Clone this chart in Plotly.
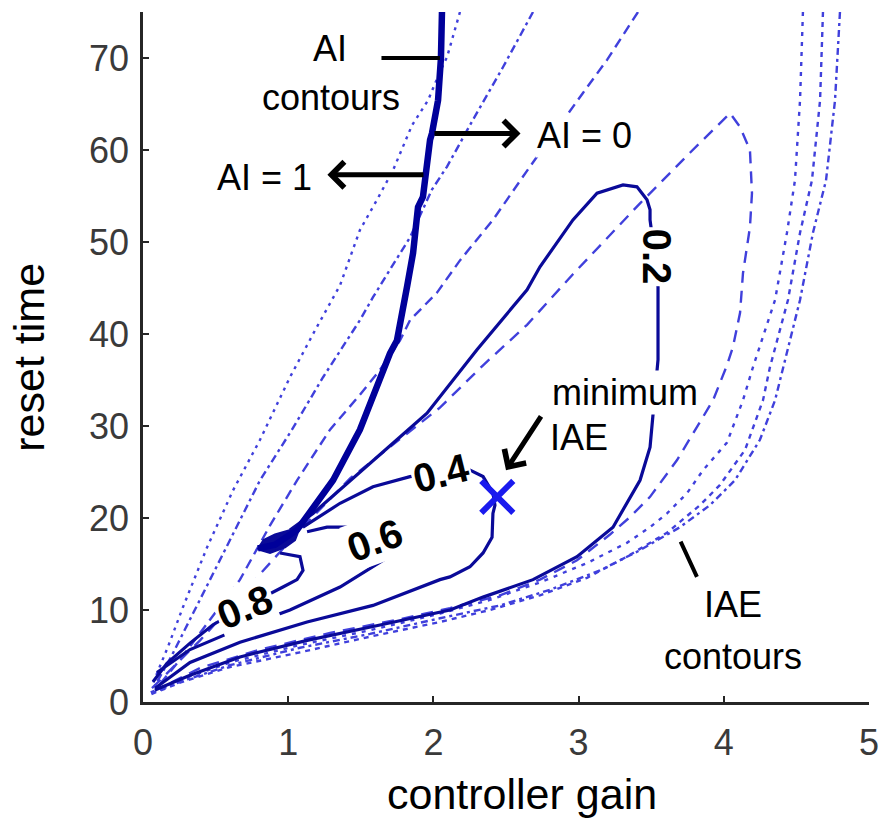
import plotly.graph_objects as go

# ---------------------------------------------------------------------------
# Tuning map: controller gain (Kc) vs reset time (Ti)
# ---------------------------------------------------------------------------

# Thick stepped boundary separating AI = 1 (left) from AI = 0 (right)
ai_limit_kc = [2.059, 2.052, 2.032, 2.011, 1.99, 1.977, 1.942, 1.928, 1.894, 1.873, 1.86,
               1.818, 1.784, 1.749, 1.701, 1.632, 1.543, 1.494, 1.309, 1.061, 0.91, 0.792]
ai_limit_ti = [75.0, 70.0, 65.4, 63.3, 61.8, 61.1, 57.1, 54.9, 53.8, 50.2, 48.8,
               45.1, 42.6, 39.3, 37.9, 35.0, 31.4, 29.6, 24.1, 18.7, 17.1, 16.7]

# Dense knot where the contours meet near Kc ~ 0.9
knot_kc = [0.79, 0.83, 0.909, 1.012, 1.081, 1.047, 0.978, 0.875, 0.79]
knot_ti = [16.6, 17.6, 18.2, 18.7, 19.0, 17.6, 16.8, 16.2, 16.6]

# Solid contours with their levels
iae_levels = [0.2, 0.4, 0.6, 0.8]

c02_kc = [1.012, 1.171, 1.77, 1.956, 2.3, 2.645, 2.734, 2.961, 3.127, 3.306, 3.402, 3.471,
          3.492, 3.492, 3.526, 3.547, 3.547, 3.512, 3.492, 3.423, 3.237, 2.989, 2.686,
          2.342, 2.114, 1.584, 1.13, 0.668, 0.324, 0.083]
c02_ti = [18.7, 20.5, 28.8, 31.4, 38.3, 44.8, 47.3, 52.4, 55.3, 56.2, 56.0, 54.6,
          53.5, 52.4, 48.4, 45.1, 37.2, 31.0, 27.7, 24.1, 19.0, 15.8, 13.3,
          11.4, 10.0, 8.2, 6.7, 4.9, 2.9, 1.3]

c04_kc = [1.102, 1.357, 1.584, 1.839, 2.045, 2.252, 2.342, 2.41, 2.424, 2.41, 2.404,
          2.342, 2.252, 2.114, 2.045, 1.584, 1.13, 0.668, 0.324, 0.083]
c04_ti = [19.0, 21.6, 23.4, 24.5, 24.9, 25.2, 24.5, 22.7, 21.4, 20.5, 17.9,
          16.2, 14.7, 13.6, 13.3, 10.5, 8.7, 6.5, 4.3, 1.5]

c06_kc = [1.13, 1.267, 1.426, 1.598, 1.653, 1.357, 1.012, 0.668, 0.324, 0.096]
c06_ti = [18.5, 19.0, 19.0, 17.6, 15.4, 12.5, 10.0, 8.0, 5.7, 3.2]

c08_kc = [0.944, 1.081, 1.102, 1.061, 0.964, 0.696, 0.482, 0.324, 0.165, 0.069]
c08_ti = [16.2, 15.8, 14.3, 13.3, 12.5, 10.3, 8.4, 6.4, 4.2, 2.2]

# Dashed AI contours fanning out from the origin
ai1_kc = [2.183, 2.094, 2.045, 1.963, 1.853, 1.722, 1.612, 1.494, 1.357, 1.185, 1.012,
          0.806, 0.62, 0.441, 0.275, 0.172, 0.062]
ai1_ti = [75.0, 70.1, 68.5, 65.4, 62.7, 57.8, 54.6, 51.3, 45.3, 40.4, 35.3,
          28.5, 23.0, 16.8, 10.3, 6.0, 1.8]

ai2_kc = [2.686, 2.479, 2.273, 2.094, 1.99, 1.839, 1.701, 1.584, 1.494, 1.24, 1.026,
          0.806, 0.634, 0.461, 0.324, 0.2, 0.083]
ai2_ti = [75.0, 69.0, 63.3, 58.2, 55.7, 50.5, 47.0, 44.0, 41.5, 35.3, 29.6,
          24.1, 18.7, 13.3, 8.9, 5.1, 1.8]

ai3_kc = [3.409, 3.196, 3.03, 2.665, 2.41, 2.183, 2.025, 1.839, 1.77, 1.632, 1.494,
          1.288, 1.061, 0.875, 0.668, 0.461, 0.255, 0.083]
ai3_ti = [75.0, 69.8, 66.2, 58.2, 52.4, 48.0, 44.5, 41.5, 39.3, 36.1, 33.4,
          29.6, 24.1, 19.2, 13.3, 8.9, 4.6, 1.3]

# Dashed IAE contours (outer levels)
iae1_kc = [0.062, 0.393, 0.737, 1.081, 1.426, 1.77, 2.045, 2.342, 2.645, 2.961, 3.423,
           3.767, 4.043, 4.112, 4.18, 4.194, 4.18, 4.132, 4.112, 4.063, 4.022, 3.926,
           3.788, 3.678, 3.492, 3.354, 3.216, 2.989, 2.734, 2.459, 2.114, 1.77, 1.288,
           0.806, 0.393, 0.117]
iae1_ti = [1.5, 6.7, 12.7, 18.7, 24.3, 28.6, 32.0, 36.6, 41.0, 46.5, 54.2,
           59.7, 64.0, 62.5, 60.0, 55.3, 51.6, 46.6, 42.3, 38.6, 36.6, 32.8,
           29.2, 26.3, 22.3, 20.1, 18.2, 15.4, 13.3, 11.6, 10.2, 9.0, 7.5,
           5.7, 3.7, 1.5]

iae2_kc = [4.545, 4.525, 4.49, 4.435, 4.353, 4.201, 4.132, 4.022, 3.857, 3.747, 3.609,
           3.492, 3.333, 3.058, 2.734, 2.39, 2.045, 1.563, 1.081, 0.599, 0.255, 0.048]
iae2_ti = [75.0, 65.4, 56.7, 51.0, 43.7, 36.4, 32.8, 28.2, 25.2, 22.7, 20.5,
           19.0, 17.3, 15.1, 13.0, 11.1, 9.6, 7.8, 6.2, 4.3, 2.4, 1.0]

iae3_kc = [4.683, 4.663, 4.607, 4.525, 4.442, 4.318, 4.27, 4.146, 3.974, 3.836, 3.609,
           3.333, 3.058, 2.734, 2.39, 2.045, 1.563, 1.081, 0.599, 0.255, 0.048]
iae3_ti = [75.0, 65.4, 56.7, 51.0, 43.7, 36.4, 32.8, 27.4, 23.6, 21.4, 18.4,
           15.8, 13.5, 11.6, 10.0, 8.7, 7.1, 5.4, 3.8, 2.1, 0.8]

iae4_kc = [4.8, 4.766, 4.704, 4.614, 4.525, 4.408, 4.353, 4.249, 4.077, 3.905, 3.698,
           3.423, 3.147, 2.803, 2.459, 2.045, 1.563, 1.081, 0.599, 0.255, 0.048]
iae4_ti = [75.0, 65.4, 56.7, 51.0, 43.7, 36.4, 32.8, 28.5, 24.1, 21.4, 19.0,
           16.5, 14.3, 12.2, 10.5, 9.1, 7.4, 5.9, 4.0, 2.2, 0.9]

# Minimum IAE tuning
min_kc = [2.44]
min_ti = [22.3]

x_ticks = [0, 1, 2, 3, 4, 5]
y_ticks = [0, 10, 20, 30, 40, 50, 60, 70]

NAVY = "#0a0a98"
DASH_BLUE = "#4040dc"
FONT = "Liberation Sans, Arial, Helvetica, sans-serif"

fig = go.Figure()


def add_curve(kc, ti, color, width, dash="solid"):
    fig.add_trace(go.Scatter(
        x=kc, y=ti, mode="lines",
        line=dict(color=color, width=width, dash=dash),
        hoverinfo="skip", showlegend=False,
    ))


# dashed contour families
add_curve(ai1_kc, ai1_ti, DASH_BLUE, 2.4, "3px,5px")
add_curve(ai2_kc, ai2_ti, DASH_BLUE, 2.4, "8px,4px,3px,4px")
add_curve(ai3_kc, ai3_ti, DASH_BLUE, 2.4, "10px,6px")
add_curve(iae1_kc, iae1_ti, DASH_BLUE, 2.4, "12px,8px")
add_curve(iae2_kc, iae2_ti, DASH_BLUE, 2.4, "4px,6px")
add_curve(iae3_kc, iae3_ti, DASH_BLUE, 2.4, "5px,5px")
add_curve(iae4_kc, iae4_ti, DASH_BLUE, 2.4, "7px,4px,3px,4px")

# solid labelled contours
for kc, ti in [(c02_kc, c02_ti), (c04_kc, c04_ti), (c06_kc, c06_ti), (c08_kc, c08_ti)]:
    add_curve(kc, ti, NAVY, 3.2)

# stepped AI boundary and knot
fig.add_trace(go.Scatter(
    x=knot_kc, y=knot_ti, mode="lines", fill="toself",
    fillcolor=NAVY, line=dict(color=NAVY, width=2),
    hoverinfo="skip", showlegend=False,
))
add_curve(ai_limit_kc, ai_limit_ti, "#00009a", 6.5)

# minimum IAE marker
fig.add_trace(go.Scatter(
    x=min_kc, y=min_ti, mode="markers",
    marker=dict(symbol="x-thin", size=32, line=dict(width=6, color="#1a1aee")),
    hoverinfo="skip", showlegend=False,
))

annotations = []


def label(text, x, y, size=36, bold=False, angle=0, xanchor="center", bg=True):
    annotations.append(dict(
        x=x, y=y, xref="x", yref="y", text=f"<b>{text}</b>" if bold else text,
        showarrow=False, textangle=angle, xanchor=xanchor, yanchor="middle",
        font=dict(family=FONT, size=size, color="black"),
        bgcolor="white" if bg else None, borderpad=1,
    ))


def arrow(x_tail, y_tail, x_head, y_head, head=4, width=5, size=1.0):
    annotations.append(dict(
        x=x_head, y=y_head, ax=x_tail, ay=y_tail,
        xref="x", yref="y", axref="x", ayref="y",
        text="", showarrow=True, arrowhead=head, arrowsize=size,
        arrowwidth=width, arrowcolor="black",
    ))


# contour level labels
label(f"{iae_levels[0]}", 3.54, 48.4, size=40, bold=True, angle=90)
label(f"{iae_levels[1]}", 2.05, 24.9, size=40, bold=True, angle=-14)
label(f"{iae_levels[2]}", 1.60, 17.6, size=40, bold=True, angle=-20)
label(f"{iae_levels[3]}", 0.70, 10.3, size=40, bold=True, angle=-22)

# AI contour callouts
label("AI", 1.29, 71.0, bg=False)
label("contours", 1.295, 65.7)
arrow(1.632, 70.0, 2.045, 70.0, head=0, width=4)
label("AI = 0", 3.04, 61.6)
arrow(1.997, 61.8, 2.60, 61.8)
label("AI = 1", 0.84, 57.0)
arrow(1.942, 57.3, 1.27, 57.3)

# minimum IAE callout
label("minimum", 2.80, 33.6, xanchor="left")
label("IAE", 2.79, 28.8, xanchor="left")
arrow(2.748, 31.2, 2.50, 25.2)

# IAE contour callout
arrow(3.698, 17.6, 3.815, 13.6, head=0, width=4)
label("IAE", 4.063, 10.6, bg=False)
label("contours", 4.063, 5.0, bg=False)

# axis titles
annotations.append(dict(
    x=-0.157, y=0.499, xref="paper", yref="paper", text="reset time",
    showarrow=False, textangle=-90, xanchor="center", yanchor="middle",
    font=dict(family=FONT, size=43, color="black"),
))
annotations.append(dict(
    x=0.522, y=-0.133, xref="paper", yref="paper", text="controller gain",
    showarrow=False, xanchor="center", yanchor="middle",
    font=dict(family=FONT, size=43, color="black"),
))

axis_common = dict(
    showgrid=False, zeroline=False, showline=True, linecolor="#262626", linewidth=2.5,
    ticks="inside", ticklen=6, tickwidth=2, tickcolor="#262626",
    tickfont=dict(family=FONT, size=36, color="#3a3a3a"),
    mirror=False, fixedrange=True,
)

fig.update_layout(
    width=881, height=825,
    margin=dict(l=143, r=12, t=12, b=123, autoexpand=False),
    paper_bgcolor="white", plot_bgcolor="white",
    xaxis=dict(range=[0, 5], tickvals=x_ticks, ticktext=[str(v) for v in x_ticks],
               ticklabelstandoff=7, **axis_common),
    yaxis=dict(range=[0, 75], tickvals=y_ticks, ticktext=[str(v) for v in y_ticks],
               ticklabelstandoff=4, **axis_common),
    annotations=annotations,
    showlegend=False,
)

fig.write_html("out.html", config={"displayModeBar": False})
